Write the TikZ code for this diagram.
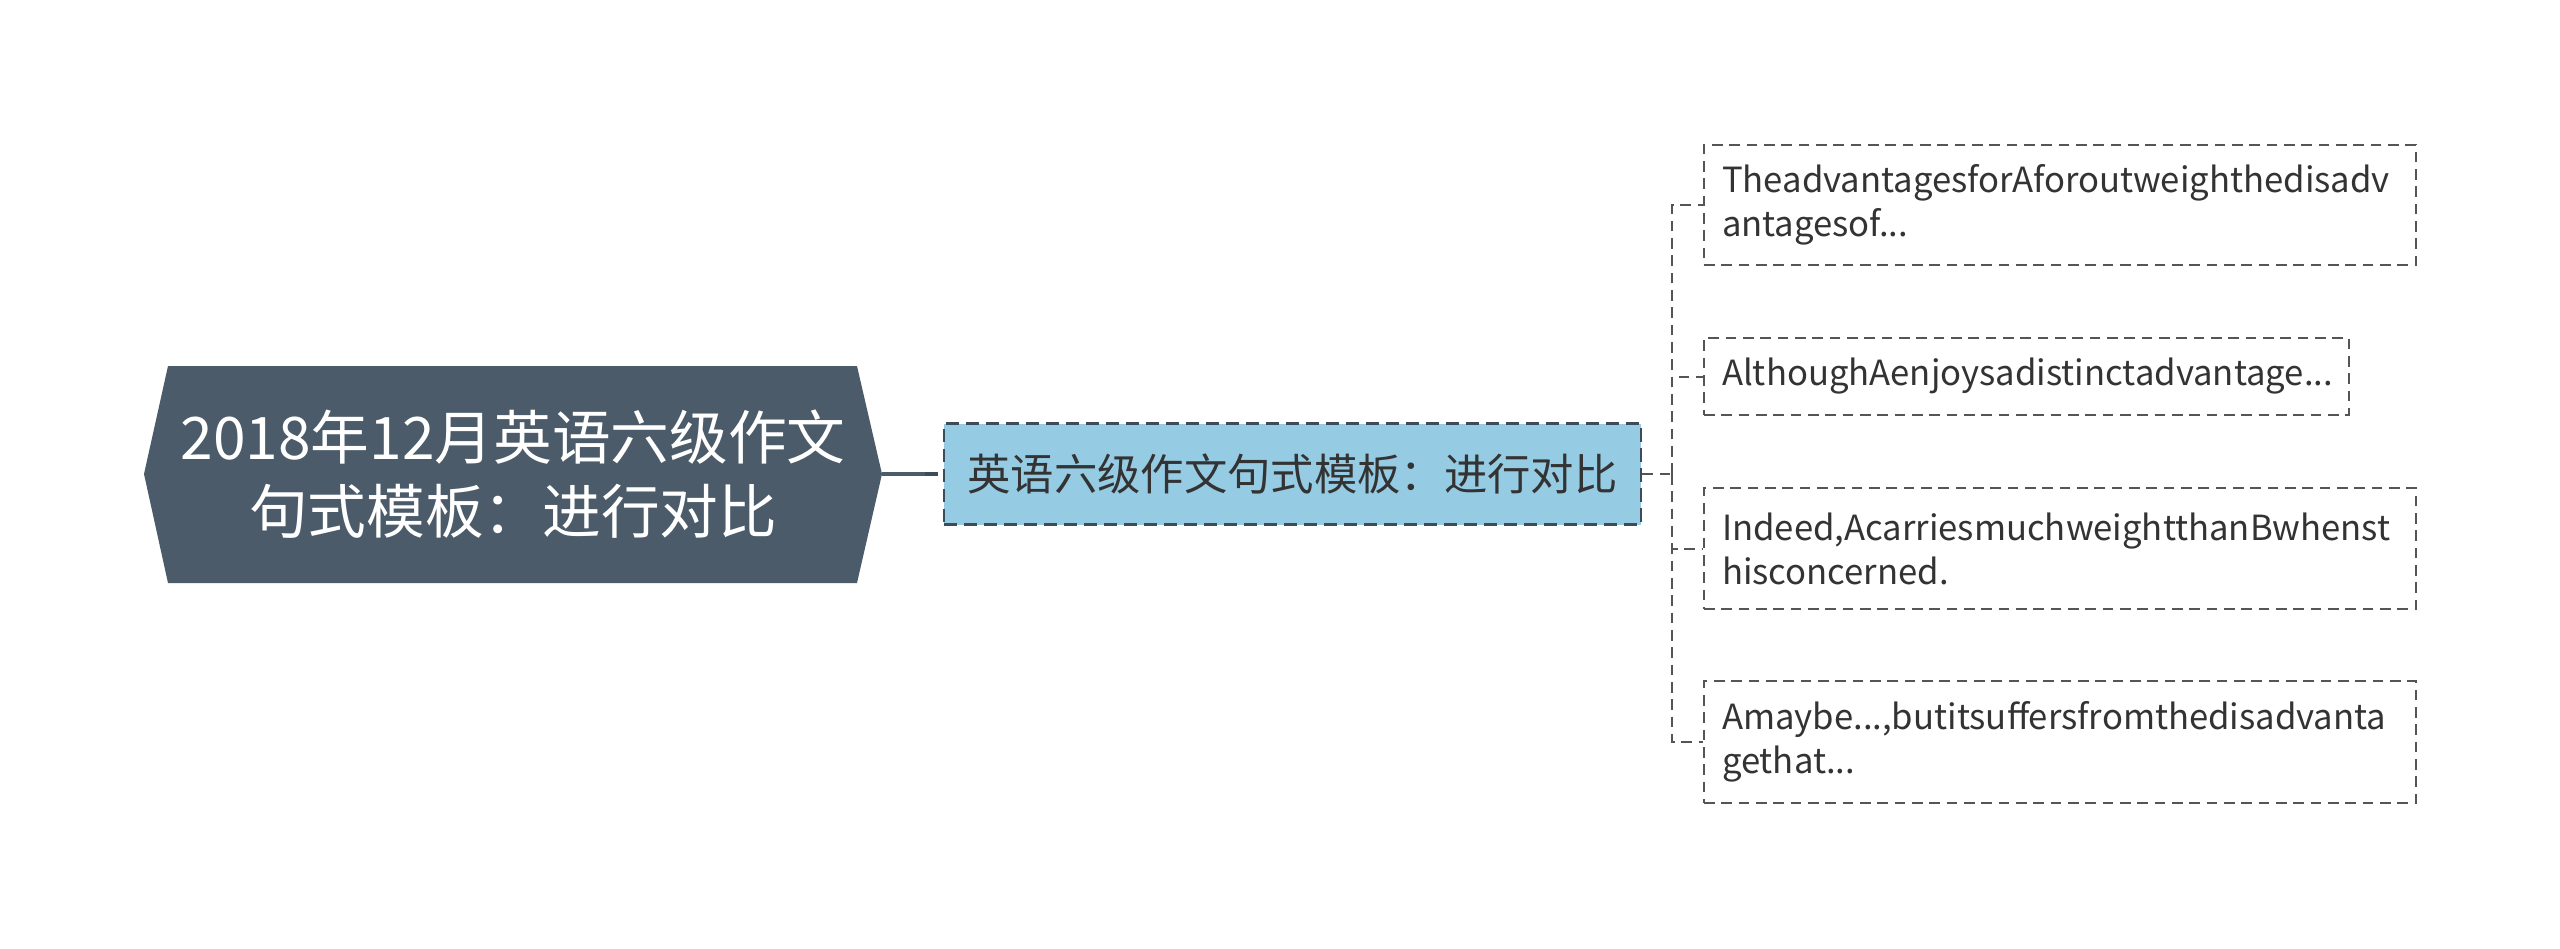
\documentclass[tikz,border=0pt]{standalone}
\usepackage{fontspec}
\setmainfont{Noto Sans CJK SC}
\definecolor{rootfill}{HTML}{4B5B6A}
\definecolor{midfill}{HTML}{96CBE4}
\definecolor{midline}{HTML}{3C4C58}
\definecolor{leafline}{HTML}{555555}
\definecolor{txt}{HTML}{333333}
\tikzset{
  leafbox/.style={draw=leafline, line width=1.5pt, dash pattern=on 8pt off 5pt, fill=white,
    anchor=west, align=left, inner xsep=13.5pt, inner ysep=0pt, text=txt,
    font=\fontsize{26}{33}\selectfont},
  midbox/.style={draw=midline, line width=2.2pt, dash pattern=on 10pt off 5pt, fill=midfill,
    minimum width=522.75pt, minimum height=75.75pt, inner sep=0pt, text=txt,
    font=\fontsize{32.5}{40}\selectfont},
  link/.style={draw=leafline, line width=1.5pt, dash pattern=on 8pt off 5pt},
}
\begin{document}
\begin{tikzpicture}[x=0.75pt,y=-0.75pt]
\useasboundingbox (0,0) rectangle (2560,949);
% root
\fill[rootfill] (168,366) -- (857,366) -- (882,474) -- (857,583) -- (168,583) -- (144,474) -- cycle;
\coordinate (rootE) at (882,474);
\node[text=white, align=center, font=\fontsize{44}{56}\selectfont, inner sep=0pt] (root) at (513,474)
  {2018年12月英语六级作文\\句式模板：进行对比};
% middle
\node[midbox] (mid) at (1292.5,474) {英语六级作文句式模板：进行对比};
\coordinate (rootS) at (925,474);
\draw[rootfill, line width=3pt] (rootE) -- (rootS);
\draw[midline, line width=3pt, dash pattern=on 10pt off 5pt] (rootS) -- (mid.west);
% leaves
\node[leafbox, text width=507pt, minimum height=90pt] (c1) at (1703,205)
  {TheadvantagesforAforoutweighthedisadv\\antagesof...};
\node[leafbox, text width=456.75pt, minimum height=57.75pt] (c2) at (1703,376.5)
  {AlthoughAenjoysadistinctadvantage...};
\node[leafbox, text width=507pt, minimum height=90.75pt] (c3) at (1703,548.5)
  {Indeed,AcarriesmuchweightthanBwhenst\\hisconcerned.};
\node[leafbox, text width=507pt, minimum height=91.5pt] (c4) at (1703,742)
  {Amaybe...,butitsuffersfromthedisadvanta\\gethat...};
% connectors
\coordinate (bus) at (1672,474);
\draw[link] (mid.east) -- (bus);
\draw[link] (bus) |- (c1.west);
\draw[link] (bus) |- (c2.west);
\draw[link] (bus) |- (c3.west);
\draw[link] (bus) |- (c4.west);
\end{tikzpicture}
\end{document}
